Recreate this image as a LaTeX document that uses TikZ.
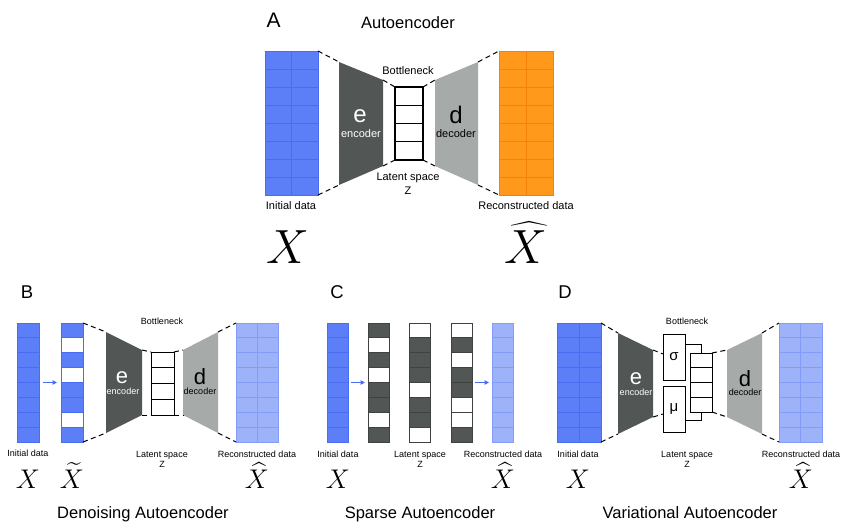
\RequirePackage{fix-cm}
\documentclass[tikz,border=0pt]{standalone}
\usepackage{fontspec}
\setmainfont{Liberation Sans}
\usepackage{amsmath}
\usepackage{tikz}
\usetikzlibrary{calc, positioning, arrows.meta}
\definecolor{Mblue}{RGB}{92,126,246}
\definecolor{MblueL}{RGB}{72,108,242}
\definecolor{Morange}{RGB}{255,153,28}
\definecolor{MorangeL}{RGB}{246,128,8}
\definecolor{Mlight}{RGB}{158,178,250}
\definecolor{MlightL}{RGB}{130,156,248}
\definecolor{Mdark}{RGB}{82,87,86}
\definecolor{MdarkL}{RGB}{62,66,66}
\definecolor{Mgray}{RGB}{166,171,169}

\begin{document}
\begin{tikzpicture}[
  x=1pt, y=-1pt,
  font=\fontsize{11}{13}\selectfont,
  col/.style={inner sep=0pt, outer sep=0pt, minimum height=119pt},
  cell/.style={line width=0.9pt},
  ladder/.style={draw, line width=#1, inner sep=0pt, outer sep=0pt},
  bx/.style={draw, line width=0.9pt, inner sep=0pt, outer sep=0pt,
             minimum width=22pt, minimum height=46pt,
             font=\fontsize{15}{15}\selectfont},
  enc/.style={fill=Mdark},
  dec/.style={fill=Mgray},
  dsh/.style={dash pattern=on 5pt off 3.5pt, line width=1pt},
  arr/.style={-{Triangle[length=4.5pt, width=4.5pt]}, MblueL, line width=1pt},
  lett/.style={font=\fontsize{21}{21}\selectfont, anchor=base},
  letts/.style={font=\fontsize{18.5}{19}\selectfont, anchor=base},
  ttl/.style={font=\fontsize{16.5}{18}\selectfont, anchor=base},
  lbl/.style={font=\fontsize{11}{13}\selectfont, anchor=base},
  slbl/.style={font=\fontsize{9}{11}\selectfont, anchor=base},
  big/.style={font=\fontsize{24}{24}\selectfont},
  bigs/.style={font=\fontsize{22}{22}\selectfont},
  mathX/.style={font=\fontsize{48}{48}\selectfont, anchor=base},
  mathXs/.style={font=\fontsize{27}{27}\selectfont, anchor=base}
]
\useasboundingbox (0,0) rectangle (850,529);

% ---------------- A: Autoencoder
\node[lett] (labA) at (273.5,28) {A};
\node[ttl]  (ttlA) at (408,28.5) {Autoencoder};

\node[col, minimum width=53pt, minimum height=144pt] (inA) at (291.5,123) {};
\foreach \r in {0,...,7}
  \foreach \c in {0,1}
    \filldraw[cell, fill=Mblue, draw=MblueL]
      ($(inA.north west)+(\c*26.5,\r*18)$) rectangle ++(26.5,18);

\coordinate (encA-tl) at (339,62);
\coordinate (encA-tr) at (383,80);
\coordinate (encA-br) at (383,166);
\coordinate (encA-bl) at (339,185);
\fill[enc] (encA-tl) -- (encA-tr) -- (encA-br) -- (encA-bl) -- cycle;

\node[ladder=1.1pt, minimum width=28pt, minimum height=73pt] (latA) at (409,123.5) {};
\foreach \r in {1,2,3}
  \draw[line width=1.1pt] ($(latA.north west)+(0,\r*18.25)$) -- ++(28,0);

\coordinate (decA-tl) at (435,80);
\coordinate (decA-tr) at (478,62);
\coordinate (decA-br) at (478,185);
\coordinate (decA-bl) at (435,166);
\fill[dec] (decA-tl) -- (decA-tr) -- (decA-br) -- (decA-bl) -- cycle;

\node[col, minimum width=54pt, minimum height=144pt] (outA) at (526,123) {};
\foreach \r in {0,...,7}
  \foreach \c in {0,1}
    \filldraw[cell, fill=Morange, draw=MorangeL]
      ($(outA.north west)+(\c*27,\r*18)$) rectangle ++(27,18);

\draw[dsh] (inA.north east) -- (encA-tl);
\draw[dsh] (inA.south east) -- (encA-bl);
\draw[dsh] (encA-tr) -- (latA.north west);
\draw[dsh] (encA-br) -- (latA.south west);
\draw[dsh] (latA.north east) -- (decA-tl);
\draw[dsh] (latA.south east) -- (decA-bl);
\draw[dsh] (decA-tr) -- (outA.north west);
\draw[dsh] (decA-br) -- (outA.south west);

\node[big, text=white] (eA)    at (360,116) {e};
\node[lbl, text=white] (encTA) at (361,138) {encoder};
\node[big]             (dA)    at (456,115) {d};
\node[lbl]             (decTA) at (456,138) {decoder};
\node[lbl] (botA) at (408,74.5) {Bottleneck};
\node[lbl] (latTA) at (408,181) {Latent space};
\node[lbl] (zA)    at (408,194.5) {Z};
\node[lbl] (iniA)  at (291,209.5) {Initial data};
\node[lbl] (recA)  at (526,209.5) {Reconstructed data};
\node[mathX] (xA)  at (288,263) {$X$};
\node[mathX] (xhA) at (526,263) {$\widehat{X}$};

% ---------------- B: Denoising
\node[letts] (labB) at (27,298) {B};

\node[col, minimum width=22pt] (inB) at (28,382.5) {};
\foreach \r in {0,...,7}
  \filldraw[cell, fill=Mblue, draw=MblueL]
    ($(inB.north west)+(0,\r*14.875)$) rectangle ++(22,14.875);

\node[col, minimum width=22pt] (noiB) at (72,382.5) {};
\foreach \f [count=\r from 0] in {Mblue,white,Mblue,white,Mblue,Mblue,white,Mblue}
  \filldraw[cell, fill=\f, draw=MblueL]
    ($(noiB.north west)+(0,\r*14.875)$) rectangle ++(22,14.875);

\draw[arr] ([xshift=4pt]inB.east) -- ([xshift=-4pt]noiB.west);

\coordinate (encB-tl) at (106,332);
\coordinate (encB-tr) at (142,350);
\coordinate (encB-br) at (142,415);
\coordinate (encB-bl) at (106,433);
\fill[enc] (encB-tl) -- (encB-tr) -- (encB-br) -- (encB-bl) -- cycle;

\node[ladder=0.9pt, minimum width=23pt, minimum height=63pt] (latB) at (162.5,383.5) {};
\foreach \r in {1,2,3}
  \draw[line width=0.9pt] ($(latB.north west)+(0,\r*15.75)$) -- ++(23,0);

\coordinate (decB-tl) at (183,350);
\coordinate (decB-tr) at (218,332);
\coordinate (decB-br) at (218,433);
\coordinate (decB-bl) at (183,415);
\fill[dec] (decB-tl) -- (decB-tr) -- (decB-br) -- (decB-bl) -- cycle;

\node[col, minimum width=42pt] (outB) at (257,382.5) {};
\foreach \r in {0,...,7}
  \foreach \c in {0,1}
    \filldraw[cell, fill=Mlight, draw=MlightL]
      ($(outB.north west)+(\c*21,\r*14.875)$) rectangle ++(21,14.875);

\draw[dsh] (noiB.north east) -- (encB-tl);
\draw[dsh] (noiB.south east) -- (encB-bl);
\draw[dsh] (encB-tr) -- (latB.north west);
\draw[dsh] (encB-br) -- (latB.south west);
\draw[dsh] (latB.north east) -- (decB-tl);
\draw[dsh] (latB.south east) -- (decB-bl);
\draw[dsh] (decB-tr) -- (outB.north west);
\draw[dsh] (decB-br) -- (outB.south west);

\node[bigs, text=white] (eB)    at (122,378) {e};
\node[slbl, text=white] (encTB) at (123,394) {encoder};
\node[bigs]             (dB)    at (200,377) {d};
\node[slbl]             (decTB) at (200,394) {decoder};
\node[slbl] (botB)  at (162,324.5) {Bottleneck};
\node[slbl] (latTB) at (162,457) {Latent space};
\node[slbl] (zB)    at (162,467.5) {Z};
\node[slbl] (iniB)  at (28,456) {Initial data};
\node[slbl] (recB)  at (257,457) {Reconstructed data};
\node[mathXs] (xB)  at (28,488) {$X$};
\node[mathXs] (xtB) at (72,488) {$\widetilde{X}$};
\node[mathXs] (xhB) at (257,488) {$\widehat{X}$};
\node[ttl] (ttlB) at (143,518) {Denoising Autoencoder};

% ---------------- C: Sparse
\node[letts] (labC) at (337,298) {C};

\node[col, minimum width=21pt] (inC) at (337.5,382.5) {};
\foreach \r in {0,...,7}
  \filldraw[cell, fill=Mblue, draw=MblueL]
    ($(inC.north west)+(0,\r*14.875)$) rectangle ++(21,14.875);

\node[col, minimum width=21pt] (spC1) at (378.5,382.5) {};
\foreach \f [count=\r from 0] in {Mdark,white,Mdark,white,Mdark,Mdark,white,Mdark}
  \filldraw[cell, fill=\f, draw=MdarkL]
    ($(spC1.north west)+(0,\r*14.875)$) rectangle ++(21,14.875);

\node[col, minimum width=21pt] (spC2) at (420,382.5) {};
\foreach \f [count=\r from 0] in {white,Mdark,Mdark,Mdark,white,Mdark,Mdark,white}
  \filldraw[cell, fill=\f, draw=MdarkL]
    ($(spC2.north west)+(0,\r*14.875)$) rectangle ++(21,14.875);

\node[col, minimum width=21pt] (spC3) at (461.5,382.5) {};
\foreach \f [count=\r from 0] in {white,Mdark,white,Mdark,Mdark,white,white,Mdark}
  \filldraw[cell, fill=\f, draw=MdarkL]
    ($(spC3.north west)+(0,\r*14.875)$) rectangle ++(21,14.875);

\node[col, minimum width=21pt] (outC) at (502.5,382.5) {};
\foreach \r in {0,...,7}
  \filldraw[cell, fill=Mlight, draw=MlightL]
    ($(outC.north west)+(0,\r*14.875)$) rectangle ++(21,14.875);

\draw[arr] ([xshift=3pt]inC.east) -- ([xshift=-3pt]spC1.west);
\draw[arr] ([xshift=3pt]spC3.east) -- ([xshift=-3pt]outC.west);

\node[slbl] (iniC)  at (338,457) {Initial data};
\node[slbl] (latTC) at (420,457) {Latent space};
\node[slbl] (zC)    at (420,467.5) {Z};
\node[slbl] (recC)  at (503,457) {Reconstructed data};
\node[mathXs] (xC)  at (338,488) {$X$};
\node[mathXs] (xhC) at (503,488) {$\widehat{X}$};
\node[ttl] (ttlC) at (420,518) {Sparse Autoencoder};

% ---------------- D: Variational
\node[letts] (labD) at (565,298) {D};

\node[col, minimum width=44pt] (inD) at (579,382.5) {};
\foreach \r in {0,...,7}
  \foreach \c in {0,1}
    \filldraw[cell, fill=Mblue, draw=MblueL]
      ($(inD.north west)+(\c*22,\r*14.875)$) rectangle ++(22,14.875);

\coordinate (encD-tl) at (618,333);
\coordinate (encD-tr) at (653,350);
\coordinate (encD-br) at (653,417);
\coordinate (encD-bl) at (618,434);
\fill[enc] (encD-tl) -- (encD-tr) -- (encD-br) -- (encD-bl) -- cycle;

\node[bx] (sigD) at (674,357) {σ};
\node[bx] (muD)  at (674,409) {μ};

\node[ladder=0.9pt, minimum width=22pt, minimum height=59pt] (latD) at (701,382.5) {};
\foreach \r in {1,2,3}
  \draw[line width=0.9pt] ($(latD.north west)+(0,\r*14.75)$) -- ++(22,0);
\draw[line width=0.9pt] ([yshift=-10pt]sigD.north east) -| (latD.north);
\draw[line width=0.9pt] ([yshift=12pt]muD.south east) -| (latD.south);

\coordinate (decD-tl) at (727,350);
\coordinate (decD-tr) at (762,333);
\coordinate (decD-br) at (762,434);
\coordinate (decD-bl) at (727,417);
\fill[dec] (decD-tl) -- (decD-tr) -- (decD-br) -- (decD-bl) -- cycle;

\node[col, minimum width=43pt] (outD) at (800.5,382.5) {};
\foreach \r in {0,...,7}
  \foreach \c in {0,1}
    \filldraw[cell, fill=Mlight, draw=MlightL]
      ($(outD.north west)+(\c*21.5,\r*14.875)$) rectangle ++(21.5,14.875);

\draw[dsh] (inD.north east) -- (encD-tl);
\draw[dsh] (inD.south east) -- (encD-bl);
\draw[dsh] (encD-tr) -- ([yshift=3pt]sigD.west);
\draw[dsh] (encD-br) -- ([yshift=-5pt]muD.west);
\draw[dsh] (latD.north east) -- (decD-tl);
\draw[dsh] (latD.south east) -- (decD-bl);
\draw[dsh] (decD-tr) -- (outD.north west);
\draw[dsh] (decD-br) -- (outD.south west);

\node[bigs, text=white] (eD)    at (636,379) {e};
\node[slbl, text=white] (encTD) at (636,395) {encoder};
\node[bigs]             (dD)    at (745,379) {d};
\node[slbl]             (decTD) at (745,395) {decoder};
\node[slbl] (botD)  at (687,324.5) {Bottleneck};
\node[slbl] (latTD) at (687,457) {Latent space};
\node[slbl] (zD)    at (687,467.5) {Z};
\node[slbl] (iniD)  at (578,457) {Initial data};
\node[slbl] (recD)  at (801,457) {Reconstructed data};
\node[mathXs] (xD)  at (578,488) {$X$};
\node[mathXs] (xhD) at (801,488) {$\widehat{X}$};
\node[ttl] (ttlD) at (690,518) {Variational Autoencoder};
\end{tikzpicture}
\end{document}
